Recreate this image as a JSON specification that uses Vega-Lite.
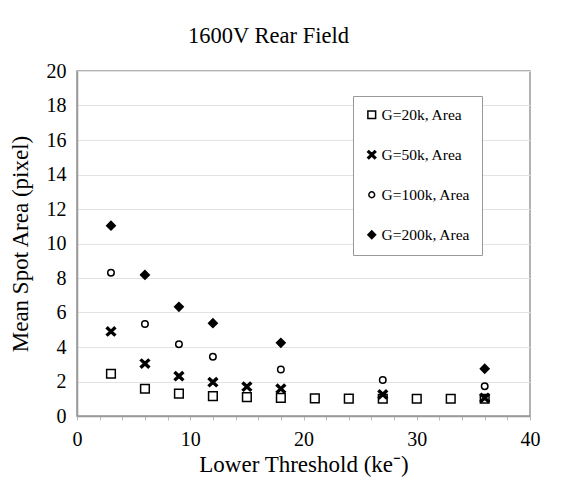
{
  "$schema": "https://vega.github.io/schema/vega-lite/v6.json",
  "width": 453,
  "height": 345,
  "autosize": {"type": "none"},
  "padding": {"left": 77, "top": 71, "right": 33, "bottom": 68},
  "background": "white",
  "title": {"text": "1600V Rear Field", "font": "Liberation Serif", "fontSize": 22.5, "fontWeight": "normal", "color": "black", "frame": "bounds", "anchor": "middle", "offset": 14, "dx": -6},
  "config": {
    "font": "Liberation Serif",
    "view": {"stroke": "#999", "strokeWidth": 1.5},
    "axis": {"labelFont": "Liberation Serif", "titleFont": "Liberation Serif", "labelColor": "black", "titleColor": "black", "titleFontWeight": "normal", "domainColor": "#999", "domainWidth": 1.5, "tickColor": "#bbb", "gridColor": "#e2e2e2", "labelFlush": false}
  },
  "data": {"values": [
    {"series": "G=20k, Area", "x": 3, "y": 2.45},
    {"series": "G=20k, Area", "x": 6, "y": 1.58},
    {"series": "G=20k, Area", "x": 9, "y": 1.3},
    {"series": "G=20k, Area", "x": 12, "y": 1.15},
    {"series": "G=20k, Area", "x": 15, "y": 1.09},
    {"series": "G=20k, Area", "x": 18, "y": 1.05},
    {"series": "G=20k, Area", "x": 21, "y": 1.02},
    {"series": "G=20k, Area", "x": 24, "y": 1.01},
    {"series": "G=20k, Area", "x": 27, "y": 1.0},
    {"series": "G=20k, Area", "x": 30, "y": 1.0},
    {"series": "G=20k, Area", "x": 33, "y": 1.0},
    {"series": "G=20k, Area", "x": 36, "y": 1.0},
    {"series": "G=50k, Area", "x": 3, "y": 4.9},
    {"series": "G=50k, Area", "x": 6, "y": 3.04},
    {"series": "G=50k, Area", "x": 9, "y": 2.31},
    {"series": "G=50k, Area", "x": 12, "y": 1.96},
    {"series": "G=50k, Area", "x": 15, "y": 1.7},
    {"series": "G=50k, Area", "x": 18, "y": 1.58},
    {"series": "G=50k, Area", "x": 27, "y": 1.25},
    {"series": "G=50k, Area", "x": 36, "y": 1.05},
    {"series": "G=100k, Area", "x": 3, "y": 8.3},
    {"series": "G=100k, Area", "x": 6, "y": 5.34},
    {"series": "G=100k, Area", "x": 9, "y": 4.16},
    {"series": "G=100k, Area", "x": 12, "y": 3.43},
    {"series": "G=100k, Area", "x": 18, "y": 2.7},
    {"series": "G=100k, Area", "x": 27, "y": 2.08},
    {"series": "G=100k, Area", "x": 36, "y": 1.73},
    {"series": "G=200k, Area", "x": 3, "y": 11.03},
    {"series": "G=200k, Area", "x": 6, "y": 8.18},
    {"series": "G=200k, Area", "x": 9, "y": 6.33},
    {"series": "G=200k, Area", "x": 12, "y": 5.38},
    {"series": "G=200k, Area", "x": 18, "y": 4.24},
    {"series": "G=200k, Area", "x": 36, "y": 2.74}
  ]},
  "mark": {"type": "point", "filled": true, "stroke": "black", "strokeWidth": 1.5, "size": 75, "opacity": 1},
  "encoding": {
    "x": {"field": "x", "type": "quantitative", "scale": {"domain": [0, 40], "nice": false},
      "axis": {"values": [0,2,4,6,8,10,12,14,16,18,20,22,24,26,28,30,32,34,36,38,40], "labelExpr": "datum.value % 10 == 0 ? datum.label : ''", "grid": false, "labelFontSize": 20, "labelPadding": 9, "tickSize": 4, "title": "Lower Threshold (ke⁻)", "titleFontSize": 23, "titlePadding": 4}},
    "y": {"field": "y", "type": "quantitative", "scale": {"domain": [0, 20], "nice": false},
      "axis": {"values": [0,2,4,6,8,10,12,14,16,18,20], "grid": true, "ticks": false, "labelFontSize": 20, "labelPadding": 11, "title": "Mean Spot Area (pixel)", "titleFontSize": 23, "titlePadding": 14}},
    "shape": {"field": "series", "type": "nominal",
      "scale": {"domain": ["G=20k, Area", "G=50k, Area", "G=100k, Area", "G=200k, Area"],
        "range": ["square", "M-0.75,-1L0,-0.3L0.75,-1L1.05,-0.7L0.3,0L1.05,0.7L0.75,1L0,0.3L-0.75,1L-1.05,0.7L-0.3,0L-1.05,-0.7Z", "M0.75,0A0.75,0.75,0,1,1,-0.75,0A0.75,0.75,0,1,1,0.75,0Z", "diamond"]},
      "legend": {"title": null, "orient": "none", "legendX": 276, "legendY": 25, "strokeColor": "#999", "fillColor": "white", "padding": 11, "labelFont": "Liberation Serif", "labelFontSize": 15.5, "labelColor": "black", "symbolSize": 60, "symbolStrokeWidth": 1.5, "rowPadding": 23, "labelOffset": 2}},
    "fill": {"field": "series", "type": "nominal",
      "scale": {"domain": ["G=20k, Area", "G=50k, Area", "G=100k, Area", "G=200k, Area"], "range": ["white", "black", "white", "black"]}}
  }
}
